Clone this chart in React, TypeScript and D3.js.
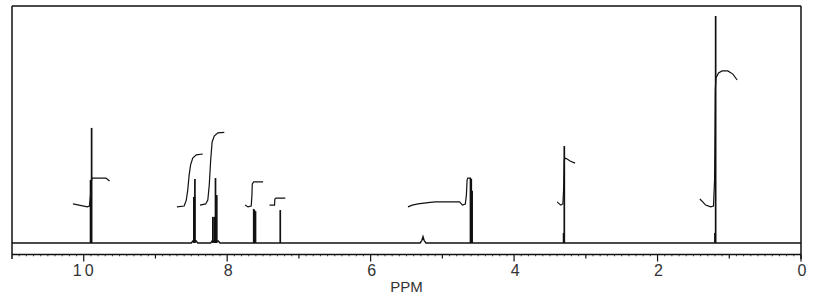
import React from "react";
import * as d3 from "d3";

// ---- data ----
const ppmDomain: [number, number] = [11, 0];
const majorTicks = [10, 8, 6, 4, 2, 0];
const majorTickLabels = ["10", "8", "6", "4", "2", "0"];
const minorTicks = [9, 7, 5, 3, 1];
const axisTitle = "PPM";

// sharp lines: chemical shift (ppm) and relative intensity (tallest = 100)
const stickPpm = [9.905, 9.897, 9.89, 8.465, 8.455, 8.45, 8.2, 8.18, 8.163, 8.145, 7.63, 7.62, 7.605, 7.26, 4.608, 4.597, 4.585, 3.31, 3.3, 1.2, 1.19];
const stickIntensity = [27.8, 27.8, 50.7, 20.3, 20.3, 28.2, 11.5, 11.5, 28.6, 21.1, 15.0, 14.5, 14.0, 14.5, 28.6, 28.2, 23.0, 4.4, 42.7, 4.4, 100];

// low-level trace (baseline with small broad bumps)
const baselineTrace: [number, number][] = [
  [11, 0], [8.5, 0], [8.475, 1.0], [8.435, 1.0], [8.41, 0],
  [8.23, 0], [8.21, 0.9], [8.125, 0.9], [8.1, 0],
  [5.31, 0], [5.285, 1.2], [5.27, 2.8], [5.255, 1.2], [5.23, 0], [0, 0],
];

// integral curves: [ppm, level in intensity units]
const integral1: [number, number][] = [[10.15, 17.2], [9.95, 15.9], [9.92, 16.3], [9.905, 21.1], [9.895, 26.9], [9.885, 28.6], [9.69, 28.6], [9.64, 27.3]];
const integral2: [number, number][] = [[8.7, 15.9], [8.6, 16.3], [8.57, 18.9], [8.55, 23.3], [8.53, 30.0], [8.51, 34.4], [8.48, 37.4], [8.43, 38.8], [8.34, 39.2]];
const integral3: [number, number][] = [[8.38, 16.7], [8.3, 17.2], [8.27, 18.9], [8.25, 25.5], [8.23, 36.6], [8.21, 44.5], [8.18, 47.1], [8.13, 48.5], [8.04, 48.7]];
const integral4: [number, number][] = [[7.75, 16.7], [7.71, 15.9], [7.665, 16.3], [7.655, 21.1], [7.65, 26.0], [7.63, 26.9], [7.5, 26.9]];
const integral5: [number, number][] = [[7.41, 16.7], [7.34, 16.7], [7.335, 19.4], [7.32, 19.8], [7.19, 19.8]];
const integral6: [number, number][] = [[5.48, 15.9], [5.42, 16.7], [5.34, 17.2], [5.2, 17.8], [5.1, 18.1], [4.76, 18.1], [4.72, 16.7], [4.68, 17.2], [4.665, 21.1], [4.655, 27.8], [4.645, 28.6], [4.6, 28.6]];
const integral7: [number, number][] = [[3.4, 18.1], [3.35, 16.7], [3.32, 17.2], [3.31, 23.3], [3.3, 36.6], [3.29, 37.4], [3.26, 37.0], [3.22, 36.1], [3.15, 35.2]];
const integral8: [number, number][] = [[1.41, 19.4], [1.37, 18.1], [1.33, 16.7], [1.26, 15.9], [1.22, 16.3], [1.205, 27.8], [1.2, 45.4], [1.195, 67.4], [1.185, 72.7], [1.15, 74.9], [1.1, 75.8], [1.02, 75.8], [0.95, 74.4], [0.89, 71.8]];
const integrals = [integral1, integral2, integral3, integral4, integral5, integral6, integral7, integral8];

export default function App() {
  const W = 822;
  const H = 295;
  const left = 12;
  const right = 801;
  const top = 6;
  const baseY = 243;
  const axisY = 254.5;

  const x = d3.scaleLinear().domain(ppmDomain).range([left, right]);
  const y = d3.scaleLinear().domain([0, 100]).range([baseY, 16]);

  const line = d3
    .line<[number, number]>()
    .x((d) => x(d[0]))
    .y((d) => y(d[1]));

  const fineTicks = d3.range(0, 110).map((i) => i / 10).filter((t) => Math.abs(t - Math.round(t)) > 0.01);

  const ink = "#111";

  return (
    <svg
      width={W}
      height={H}
      style={{ position: "absolute", left: 0, top: 0, background: "#fff" }}
      fontFamily="'Liberation Sans', Arial, sans-serif"
    >
      {/* frame */}
      <line x1={left} x2={right} y1={top} y2={top} stroke={ink} strokeWidth={1.5} />
      <line x1={left} x2={left} y1={top} y2={259} stroke={ink} strokeWidth={1.5} />
      <line x1={right} x2={right} y1={top} y2={259} stroke={ink} strokeWidth={1.5} />

      {/* baseline trace */}
      <path d={line(baselineTrace) || ""} fill="none" stroke={ink} strokeWidth={1.4} />

      {/* sticks */}
      {stickPpm.map((p, i) => (
        <line
          key={"s" + i}
          x1={x(p)}
          x2={x(p)}
          y1={y(0)}
          y2={y(stickIntensity[i])}
          stroke={ink}
          strokeWidth={1.7}
        />
      ))}

      {/* integrals */}
      {integrals.map((pts, i) => (
        <path key={"int" + i} d={line(pts) || ""} fill="none" stroke={ink} strokeWidth={1.2} />
      ))}

      {/* axis */}
      <line x1={left} x2={right} y1={axisY} y2={axisY} stroke={ink} strokeWidth={1.3} />
      {fineTicks.map((t, i) => (
        <line key={"f" + i} x1={x(t)} x2={x(t)} y1={axisY} y2={axisY + 1.8} stroke={ink} strokeWidth={0.8} />
      ))}
      {minorTicks.map((t) => (
        <line key={"m" + t} x1={x(t)} x2={x(t)} y1={axisY} y2={axisY + 4} stroke={ink} strokeWidth={1.2} />
      ))}
      {majorTicks.map((t) => (
        <line key={"M" + t} x1={x(t)} x2={x(t)} y1={axisY} y2={axisY + 7} stroke={ink} strokeWidth={1.2} />
      ))}
      {majorTicks.map((t, i) => (
        <text
          key={"L" + t}
          x={x(t) + 1}
          y={275.5}
          textAnchor="middle"
          fontSize={16}
          letterSpacing={majorTickLabels[i].length > 1 ? 3 : 0}
          fill="#333"
        >
          {majorTickLabels[i]}
        </text>
      ))}
      <text x={x(5.5)} y={292} textAnchor="middle" fontSize={15} fill="#333">
        {axisTitle}
      </text>
    </svg>
  );
}
